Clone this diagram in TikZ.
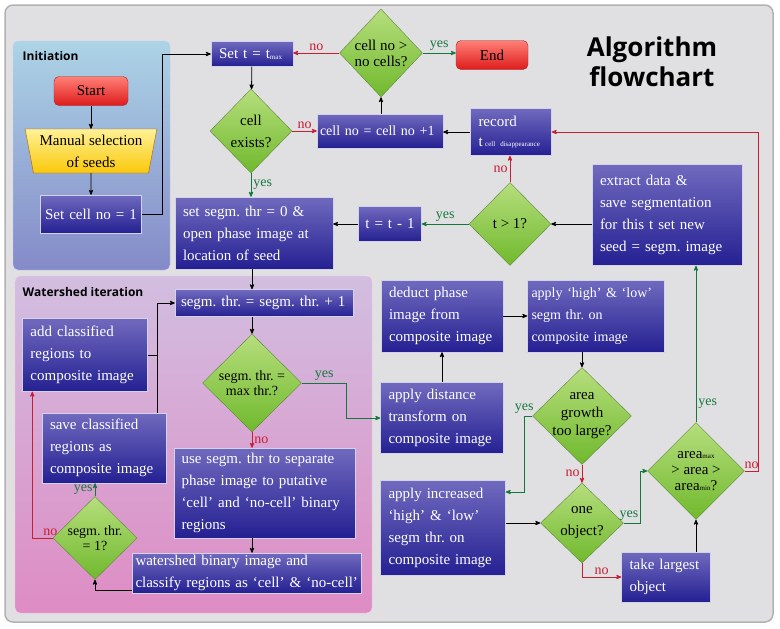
\documentclass[tikz,border=0pt]{standalone}
\usepackage{fontspec}
\setmainfont{Liberation Serif}
\newfontfamily\headfont{Open Sans}
\usetikzlibrary{arrows, shapes.geometric, positioning}
\frenchspacing

\definecolor{panelgray}{RGB}{224,224,227}
\definecolor{boxtop}{RGB}{112,106,190}
\definecolor{boxbot}{RGB}{36,32,146}
\definecolor{dectop}{RGB}{182,222,125}
\definecolor{decbot}{RGB}{112,185,45}
\definecolor{decline}{RGB}{95,135,60}
\definecolor{termtop}{RGB}{255,128,118}
\definecolor{termbot}{RGB}{222,28,28}
\definecolor{termline}{RGB}{160,40,40}
\definecolor{seedtop}{RGB}{255,242,150}
\definecolor{seedbot}{RGB}{250,200,10}
\definecolor{yesgreen}{RGB}{20,120,60}
\definecolor{nored}{RGB}{200,30,50}
\definecolor{inittop}{RGB}{172,212,230}
\definecolor{initbot}{RGB}{132,138,200}
\definecolor{wshtop}{RGB}{210,190,224}
\definecolor{wshbot}{RGB}{222,140,196}

\begin{document}
\begin{tikzpicture}[x=1pt,y=-1pt,>=stealth',thick,
  every node/.style={font=\fontsize{15}{22}\selectfont},
  proc/.style 2 args={draw=white!70!boxtop, thin, top color=boxtop, bottom color=boxbot,
    text=white, align=left, inner xsep=8pt, inner ysep=2pt, text width=#1, minimum height=#2},
  decision/.style 2 args={diamond, draw=decline, thin, top color=dectop, bottom color=decbot,
    align=center, inner sep=-12pt, minimum width=#1, minimum height=#2,
    font=\fontsize{15}{16}\selectfont},
  terminal/.style={draw=termline, thin, rounded corners=5pt, top color=termtop,
    bottom color=termbot, minimum width=74pt, minimum height=29pt},
  seeds/.style={trapezium, shape border rotate=180, trapezium left angle=77,
    trapezium right angle=77, trapezium stretches=true, draw=orange!70!black, thin,
    top color=seedtop, bottom color=seedbot, minimum width=132pt, minimum height=44pt,
    align=center, inner sep=0pt},
  head/.style={font=\headfont\bfseries\fontsize{12}{14}\selectfont, anchor=west},
  lbl/.style={font=\fontsize{14}{14}\selectfont, inner sep=2pt}]
  \useasboundingbox (0,0) rectangle (780,629);

  % panels
  \draw[draw=gray!60, line width=1.5pt, fill=panelgray, rounded corners=8pt] (5,5) rectangle (773,622);
  \draw[draw=white!80!blue, thin, top color=inittop, bottom color=initbot, rounded corners=5pt] (13,41) rectangle (170,270);
  \draw[draw=white!80!magenta, thin, top color=wshtop, bottom color=wshbot, rounded corners=5pt] (15,276) rectangle (372,613);
  \node[head] at (19,56) {Initiation};
  \node[head] at (19,292) {Watershed iteration};
  \node[font=\headfont\bfseries\fontsize{26}{30}\selectfont, align=center] (title) at (652,62) {Algorithm\\flowchart};

  % initiation
  \node[terminal] (start) at (91,91) {Start};
  \node[seeds] (manual) at (91,151) {Manual selection\\of seeds};
  \node[proc={95pt}{38pt}, align=center, inner xsep=3pt] (setcell) at (91,214) {Set cell no = 1};

  % outer loop
  \node[proc={66pt}{25pt}] (sett) at (252,54) {Set t = t\raisebox{-1pt}{\fontsize{7}{7}\selectfont max}};
  \node[decision={82pt}{84pt}, font=\fontsize{15}{22}\selectfont] (exists) at (251,131) {cell\\exists?};
  \node[proc={120pt}{34pt}, inner xsep=3pt, font=\fontsize{14}{22}\selectfont] (cellinc) at (380,131) {cell no = cell no +1};
  \node[decision={83pt}{88pt}] (morecells) at (381,53) {cell no >\\no cells?};
  \node[terminal, minimum width=72pt] (endnode) at (492,55) {End};
  \node[proc={65pt}{47pt}, font=\fontsize{15}{20}\selectfont] (record) at (511,132) {record\\t\,{\fontsize{7}{7}\selectfont cell disappearance}};
  \node[decision={82pt}{83pt}] (tgt) at (510,224) {t > 1?};
  \node[proc={55pt}{35pt}, inner xsep=4pt, align=center] (tdec) at (390,224) {t = t - 1};
  \node[proc={134pt}{101pt}] (extract) at (667,215) {extract data \&\\save segmentation\\for this t set new\\seed = segm. image};
  \node[proc={142pt}{72pt}] (setthr) at (254,233) {set segm. thr = 0 \&\\open phase image at\\location of seed};

  % watershed iteration
  \node[proc={166pt}{27pt}, inner xsep=6pt] (incthr) at (264,303) {segm. thr. = segm. thr. + 1};
  \node[decision={99pt}{98pt}, font=\fontsize{14}{15}\selectfont] (maxthr) at (252,383) {segm. thr. =\\max thr.?};
  \node[proc={167pt}{90pt}, inner xsep=7pt] (separate) at (265,493) {use segm. thr to separate\\phase image to putative\\‘cell’ and ‘no-cell’ binary\\regions};
  \node[proc={223pt}{40pt}, inner xsep=3pt] (wsh) at (247,573) {watershed binary image and\\classify regions as ‘cell’ \& ‘no-cell’};
  \node[decision={84pt}{83pt}, font=\fontsize{14}{15}\selectfont] (throne) at (95,538) {segm. thr.\\= 1?};
  \node[proc={108pt}{70pt}] (save) at (104,448) {save classified\\regions as\\composite image};
  \node[proc={109pt}{73pt}] (add) at (85,355) {add classified\\regions to\\composite image};

  % object selection
  \node[proc={106pt}{72pt}] (deduct) at (442,316) {deduct phase\\image from\\composite image};
  \node[proc={129pt}{72pt}, inner xsep=4pt, font=\fontsize{14}{22}\selectfont] (highlow) at (596,316) {apply ‘high’ \& ‘low’\\segm thr. on\\composite image};
  \node[proc={107pt}{71pt}] (dist) at (442,418) {apply distance\\transform on\\composite image};
  \node[decision={99pt}{97pt}, font=\fontsize{15}{18}\selectfont] (growth) at (582,416) {area\\growth\\too large?};
  \node[proc={109pt}{95pt}] (increased) at (443,528) {apply increased\\‘high’ \& ‘low’\\segm thr. on\\composite image};
  \node[decision={83pt}{80pt}, font=\fontsize{15}{22}\selectfont] (oneobj) at (582,523) {one\\object?};
  \node[proc={73pt}{50pt}] (largest) at (666,577) {take largest\\object};
  \node[decision={97pt}{97pt}] (arearange) at (696,471) {area{\fontsize{7}{7}\selectfont max}\\> area >\\area{\fontsize{7}{7}\selectfont min}?};

  % connectors
  \path[->] (start) edge (manual)
            (manual) edge (setcell);
  \draw[->] (setcell.east) -- ++(21,0) |- (sett.west);
  \draw[->] (sett) -- (exists);
  \draw[->, nored] (exists.east) -- node[lbl, above]{no} (cellinc.west |- exists.east);
  \draw[->] (cellinc.north -| morecells) -- (morecells.south);
  \draw[->, nored] (morecells.west) -- node[lbl, above]{no} (sett.east |- morecells.west);
  \draw[->, yesgreen] (morecells.east) -- node[lbl, above]{yes} (endnode.west |- morecells.east);
  \draw[->] (record.west) -- (cellinc.east |- record.west);
  \draw[->, nored] (tgt.north) -- node[lbl, left]{no} (record.south -| tgt.north);
  \draw[->, yesgreen] (tgt.west) -- node[lbl, above]{yes} (tdec.east |- tgt.west);
  \draw[->] (tdec.west) -- (setthr.east |- tdec.west);
  \draw[->] (extract.west |- tgt) -- (tgt.east);
  \draw[->, yesgreen] (exists.south) -- node[lbl, right]{yes} (exists.south |- setthr.north);

  \draw[->] (setthr.south -| maxthr) -- (incthr.north -| maxthr);
  \draw[->] (incthr.south -| maxthr) -- (maxthr.north);
  \draw[->, nored] (maxthr.south) -- node[lbl, right]{no} (maxthr.south |- separate.north);
  \draw[->, yesgreen] (maxthr.east) -- node[lbl, above]{yes} ++(45,0) |- (dist.west);
  \draw[->] (separate.south -| maxthr) -- (wsh.north -| maxthr);
  \draw[->] ([yshift=3pt]wsh.south west) -| (throne.south);
  \draw[->, yesgreen] (throne.north) -- node[lbl, left]{yes} (throne.north |- save.south);
  \draw[->, nored] (throne.west) -| node[lbl, pos=0.06, above]{no} ([xshift=10pt]add.south west);
  \coordinate (join) at ([xshift=-9pt]save.north east);
  \draw[->] (join) |- (incthr.west);
  \draw (add.east) -- (add.east -| join);

  \draw[->] (dist.north) -- (deduct.south);
  \draw[->] (deduct.east) -- (highlow.west);
  \draw[->] (highlow.south -| growth) -- (growth.north);
  \draw[->, yesgreen] (growth.west) -- node[lbl, pos=1, above]{yes} ++(-8,0) |- ([yshift=36pt]increased.east);
  \draw[->, nored] (growth.south) -- node[lbl, left]{no} (oneobj.north);
  \draw[->] (increased.east |- oneobj) -- (oneobj.west);
  \draw[->, nored] (oneobj.south) |- node[lbl, pos=0.75, above]{no} (largest.west);
  \draw[->, yesgreen] (oneobj.east) -- node[lbl, pos=1, above left]{yes} ++(17,0) |- (arearange.west);
  \draw[->] (largest.north -| arearange) -- (arearange.south);
  \draw[->, yesgreen] (arearange.north) -- node[lbl, pos=0.12, right]{yes} (arearange.north |- extract.south);
  \draw[->, nored] (arearange.east) -- node[lbl, above]{no} ++(14,0) |- (record.east);
\end{tikzpicture}
\end{document}
